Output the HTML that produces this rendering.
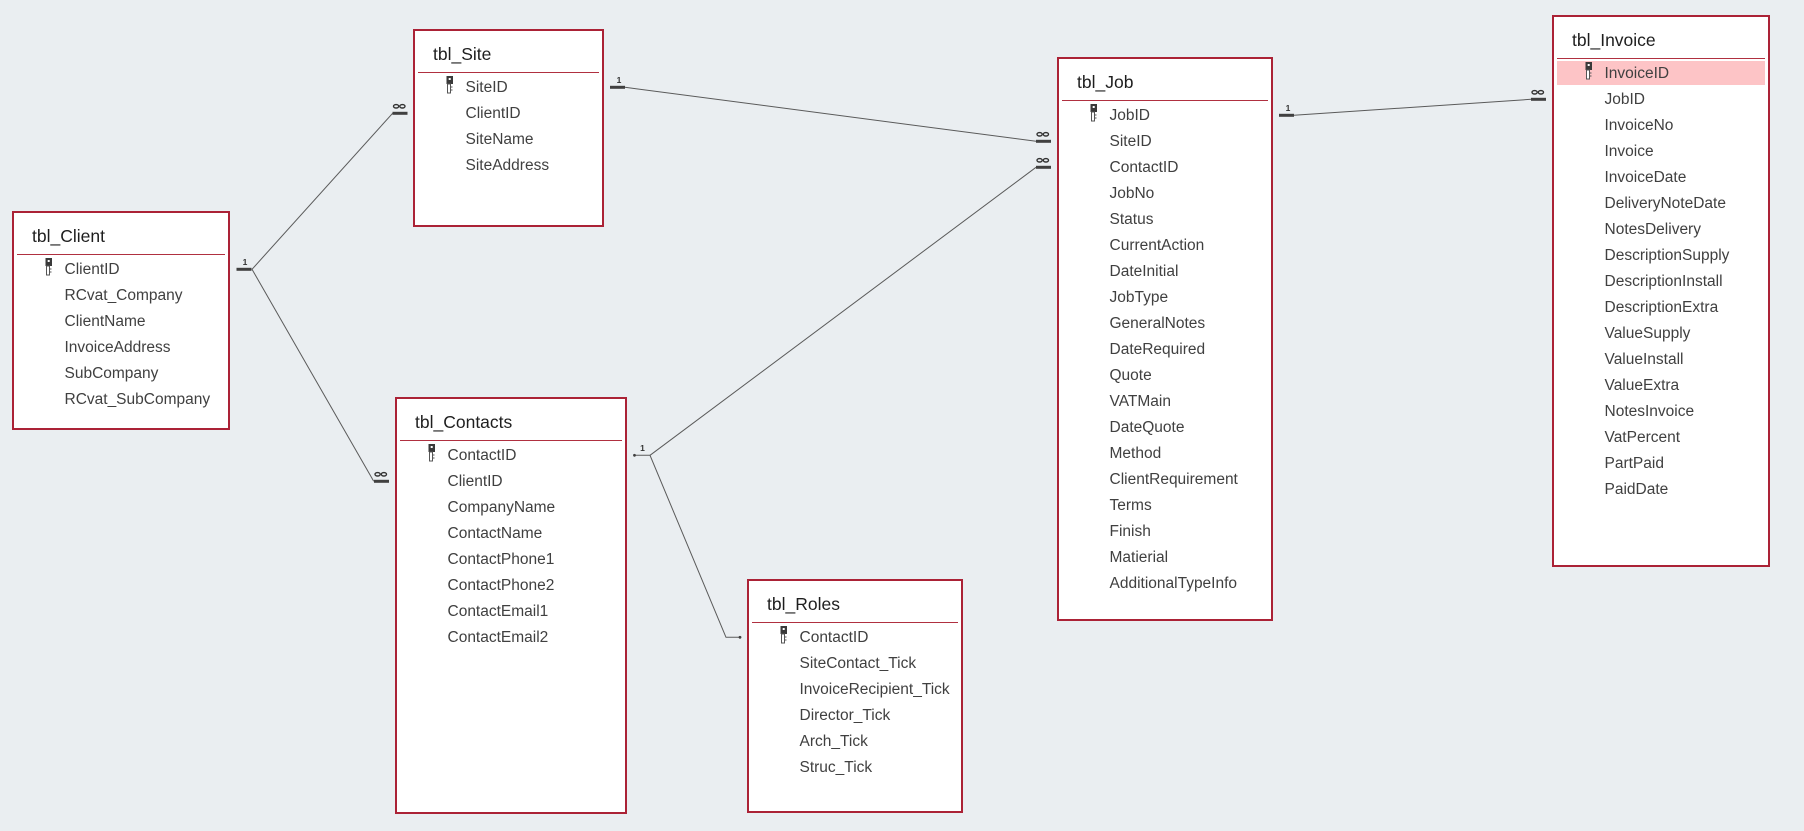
<!DOCTYPE html>
<html>
<head>
<meta charset="utf-8">
<style>
  html,body{margin:0;padding:0;}
  body{width:1804px;height:831px;background:#eaeef1;position:relative;overflow:hidden;font-family:"Liberation Sans",Arial,sans-serif;}
  .tbl{position:absolute;background:#fff;border:2px solid #ab2236;box-sizing:border-box;}
  .title{position:absolute;left:18px;top:13px;font-size:17.5px;line-height:20px;color:#1e1e1e;white-space:nowrap;}
  .sep{position:absolute;left:3px;right:3px;top:41px;height:1px;background:#b03040;}
  .rows{position:absolute;left:50.5px;top:43.8px;font-size:15.5px;line-height:26px;color:#404040;white-space:nowrap;}
  .rows div{height:26px;}
  .key{position:absolute;left:30.5px;top:45px;width:8px;height:18px;}
  .hl{position:absolute;left:3px;width:208px;top:44px;height:24px;background:#fdc4c6;}
  svg.ov{position:absolute;left:0;top:0;}
</style>
</head>
<body>

<!-- tbl_Client -->
<div class="tbl" style="left:12px;top:211px;width:218px;height:219px;">
  <div class="title">tbl_Client</div>
  <div class="sep"></div>
  <svg class="key" viewBox="0 0 8 18"><rect x="0.5" y="0" width="6.5" height="8" fill="#3a3a3a"/><rect x="2.7" y="2" width="2" height="2" fill="#fff"/><rect x="1.5" y="8" width="3" height="9" fill="#fff" stroke="#555" stroke-width="1"/><path d="M4.5 11h2M4.5 14h2" stroke="#555" stroke-width="1"/></svg>
  <div class="rows">
    <div>ClientID</div><div>RCvat_Company</div><div>ClientName</div><div>InvoiceAddress</div><div>SubCompany</div><div>RCvat_SubCompany</div>
  </div>
</div>

<!-- tbl_Site -->
<div class="tbl" style="left:413px;top:29px;width:191px;height:198px;">
  <div class="title">tbl_Site</div>
  <div class="sep"></div>
  <svg class="key" viewBox="0 0 8 18"><rect x="0.5" y="0" width="6.5" height="8" fill="#3a3a3a"/><rect x="2.7" y="2" width="2" height="2" fill="#fff"/><rect x="1.5" y="8" width="3" height="9" fill="#fff" stroke="#555" stroke-width="1"/><path d="M4.5 11h2M4.5 14h2" stroke="#555" stroke-width="1"/></svg>
  <div class="rows">
    <div>SiteID</div><div>ClientID</div><div>SiteName</div><div>SiteAddress</div>
  </div>
</div>

<!-- tbl_Contacts -->
<div class="tbl" style="left:395px;top:397px;width:232px;height:417px;">
  <div class="title">tbl_Contacts</div>
  <div class="sep"></div>
  <svg class="key" viewBox="0 0 8 18"><rect x="0.5" y="0" width="6.5" height="8" fill="#3a3a3a"/><rect x="2.7" y="2" width="2" height="2" fill="#fff"/><rect x="1.5" y="8" width="3" height="9" fill="#fff" stroke="#555" stroke-width="1"/><path d="M4.5 11h2M4.5 14h2" stroke="#555" stroke-width="1"/></svg>
  <div class="rows">
    <div>ContactID</div><div>ClientID</div><div>CompanyName</div><div>ContactName</div><div>ContactPhone1</div><div>ContactPhone2</div><div>ContactEmail1</div><div>ContactEmail2</div>
  </div>
</div>

<!-- tbl_Roles -->
<div class="tbl" style="left:747px;top:579px;width:216px;height:234px;">
  <div class="title">tbl_Roles</div>
  <div class="sep"></div>
  <svg class="key" viewBox="0 0 8 18"><rect x="0.5" y="0" width="6.5" height="8" fill="#3a3a3a"/><rect x="2.7" y="2" width="2" height="2" fill="#fff"/><rect x="1.5" y="8" width="3" height="9" fill="#fff" stroke="#555" stroke-width="1"/><path d="M4.5 11h2M4.5 14h2" stroke="#555" stroke-width="1"/></svg>
  <div class="rows">
    <div>ContactID</div><div>SiteContact_Tick</div><div>InvoiceRecipient_Tick</div><div>Director_Tick</div><div>Arch_Tick</div><div>Struc_Tick</div>
  </div>
</div>

<!-- tbl_Job -->
<div class="tbl" style="left:1057px;top:57px;width:216px;height:564px;">
  <div class="title">tbl_Job</div>
  <div class="sep"></div>
  <svg class="key" viewBox="0 0 8 18"><rect x="0.5" y="0" width="6.5" height="8" fill="#3a3a3a"/><rect x="2.7" y="2" width="2" height="2" fill="#fff"/><rect x="1.5" y="8" width="3" height="9" fill="#fff" stroke="#555" stroke-width="1"/><path d="M4.5 11h2M4.5 14h2" stroke="#555" stroke-width="1"/></svg>
  <div class="rows">
    <div>JobID</div><div>SiteID</div><div>ContactID</div><div>JobNo</div><div>Status</div><div>CurrentAction</div><div>DateInitial</div><div>JobType</div><div>GeneralNotes</div><div>DateRequired</div><div>Quote</div><div>VATMain</div><div>DateQuote</div><div>Method</div><div>ClientRequirement</div><div>Terms</div><div>Finish</div><div>Matierial</div><div>AdditionalTypeInfo</div>
  </div>
</div>

<!-- tbl_Invoice -->
<div class="tbl" style="left:1552px;top:15px;width:218px;height:552px;">
  <div class="title">tbl_Invoice</div>
  <div class="sep"></div>
  <div class="hl"></div>
  <svg class="key" viewBox="0 0 8 18"><rect x="0.5" y="0" width="6.5" height="8" fill="#3a3a3a"/><rect x="2.7" y="2" width="2" height="2" fill="#fff"/><rect x="1.5" y="8" width="3" height="9" fill="#fff" stroke="#555" stroke-width="1"/><path d="M4.5 11h2M4.5 14h2" stroke="#555" stroke-width="1"/></svg>
  <div class="rows">
    <div>InvoiceID</div><div>JobID</div><div>InvoiceNo</div><div>Invoice</div><div>InvoiceDate</div><div>DeliveryNoteDate</div><div>NotesDelivery</div><div>DescriptionSupply</div><div>DescriptionInstall</div><div>DescriptionExtra</div><div>ValueSupply</div><div>ValueInstall</div><div>ValueExtra</div><div>NotesInvoice</div><div>VatPercent</div><div>PartPaid</div><div>PaidDate</div>
  </div>
</div>

<svg class="ov" width="1804" height="831" viewBox="0 0 1804 831">
  <g stroke="#5a5a5a" stroke-width="1" fill="none">
    <line x1="252" y1="269.3" x2="392.6" y2="113.3"/>
    <line x1="252" y1="269.3" x2="373.7" y2="481.3"/>
    <line x1="625" y1="87.3" x2="1036" y2="141.3"/>
    <line x1="650" y1="455.3" x2="1036" y2="167.3"/>
    <polyline points="634,455.3 650,455.3 726,637.3 740,637.3"/>
    <line x1="1294" y1="115.3" x2="1531" y2="99.3"/>
  </g>
  <g fill="#404040">
    <rect x="236.5" y="267.8" width="15" height="3"/>
    <rect x="610" y="85.8" width="15" height="3"/>
    <rect x="392.5" y="111.8" width="15" height="3"/>
    <rect x="374" y="479.8" width="15" height="3"/>
    <rect x="1036" y="139.8" width="15" height="3"/>
    <rect x="1036" y="165.8" width="15" height="3"/>
    <rect x="1279" y="113.8" width="15" height="3"/>
    <rect x="1531" y="97.8" width="15" height="3"/>
    <circle cx="634.5" cy="455.3" r="1.4"/>
    <circle cx="740" cy="637.3" r="1.4"/>
  </g>
  <g font-family="Liberation Sans, Arial, sans-serif" font-size="8.5" font-weight="bold" fill="#333" text-anchor="middle">
    <text x="245" y="265">1</text>
    <text x="619" y="83">1</text>
    <text x="1288" y="111">1</text>
    <text x="642.5" y="451">1</text>
  </g>
  <g stroke="#333" stroke-width="1.4" fill="none">
    <ellipse cx="396.1" cy="106.3" rx="2.6" ry="1.7"/><ellipse cx="402.4" cy="106.3" rx="2.6" ry="1.7"/>
    <ellipse cx="377.6" cy="474.3" rx="2.6" ry="1.7"/><ellipse cx="383.9" cy="474.3" rx="2.6" ry="1.7"/>
    <ellipse cx="1039.6" cy="134.3" rx="2.6" ry="1.7"/><ellipse cx="1045.9" cy="134.3" rx="2.6" ry="1.7"/>
    <ellipse cx="1039.6" cy="160.3" rx="2.6" ry="1.7"/><ellipse cx="1045.9" cy="160.3" rx="2.6" ry="1.7"/>
    <ellipse cx="1534.6" cy="92.3" rx="2.6" ry="1.7"/><ellipse cx="1540.9" cy="92.3" rx="2.6" ry="1.7"/>
  </g>
</svg>

</body>
</html>
